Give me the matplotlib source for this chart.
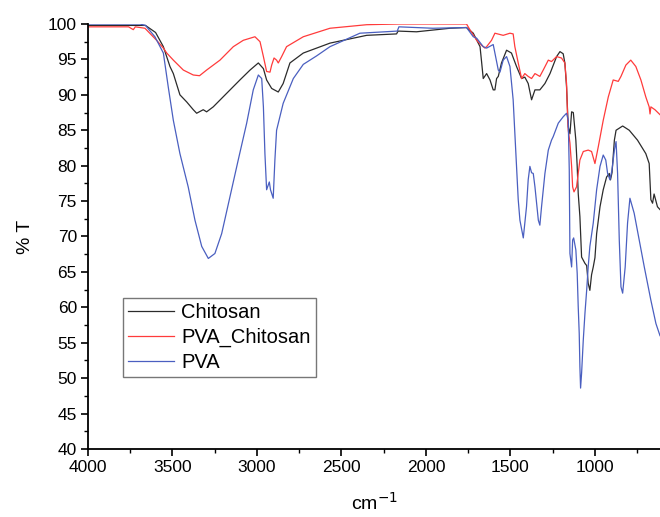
import matplotlib
matplotlib.use("Agg")
import matplotlib.pyplot as plt
from matplotlib.ticker import MultipleLocator

plt.rcParams['font.family'] = ['Liberation Sans', 'DejaVu Sans']

# Chitosan
wn_chit = [4000, 3700, 3660, 3600, 3554, 3515, 3495, 3456, 3416, 3377, 3357, 3318, 3298, 3259, 3180, 3101,
           3041, 2992, 2962, 2943, 2913, 2874, 2845, 2805, 2726, 2568, 2351, 2174, 2165, 2056, 1858, 1760,
           1720, 1680, 1671, 1661, 1641, 1621, 1602, 1592, 1582, 1572, 1553, 1523, 1494, 1464, 1434, 1415,
           1395, 1375, 1355, 1326, 1296, 1266, 1227, 1207, 1188, 1178, 1168, 1158, 1148, 1138, 1128, 1113,
           1105, 1099, 1089, 1079, 1059, 1049, 1040, 1030, 1020, 1010, 1000, 990, 970, 951, 931, 915, 908,
           899, 885, 875, 836, 797, 748, 699, 679, 669, 659, 650, 630, 615]
t_chit = [99.8, 99.8, 99.8, 98.8, 96.8, 94.0, 93.0, 90.0, 89.0, 87.9, 87.4, 87.9, 87.6, 88.3, 90.2, 92.1,
          93.5, 94.5, 93.7, 92.1, 90.9, 90.4, 91.6, 94.5, 95.9, 97.3, 98.4, 98.6, 99.0, 98.9, 99.4, 99.5,
          98.7, 96.8, 94.7, 92.3, 93.0, 92.1, 90.7, 90.7, 92.3, 92.6, 94.5, 96.3, 95.9, 94.0, 92.3, 92.5,
          91.6, 89.3, 90.7, 90.7, 91.6, 93.0, 95.4, 96.1, 95.8, 94.5, 91.1, 85.5, 84.5, 87.6, 87.5, 83.6,
          79.9, 76.1, 72.8, 67.1, 66.2, 65.9, 63.4, 62.4, 64.6, 65.7, 67.0, 70.4, 74.2, 76.6, 78.4, 78.9, 78.0,
          79.0, 83.6, 85.0, 85.6, 85.0, 83.6, 81.7, 80.3, 75.2, 74.7, 76.0, 74.2, 73.8]

# PVA_Chitosan
wn_blend = [4000, 3760, 3732, 3720, 3663, 3594, 3554, 3534, 3495, 3436, 3377, 3340, 3298, 3219, 3140, 3081,
            3012, 2982, 2962, 2943, 2923, 2913, 2899, 2884, 2874, 2854, 2825, 2726, 2568, 2351, 2160, 1760,
            1740, 1700, 1671, 1651, 1641, 1612, 1592, 1543, 1503, 1484, 1474, 1454, 1434, 1415, 1395, 1375,
            1355, 1326, 1306, 1276, 1257, 1227, 1198, 1178, 1168, 1162, 1158, 1148, 1138, 1132, 1124, 1109,
            1089, 1069, 1040, 1020, 1000, 980, 951, 921, 892, 862, 846, 817, 788, 758, 728, 699, 679, 674,
            669, 645, 615]
t_blend = [99.6, 99.6, 99.2, 99.6, 99.4, 97.7, 96.6, 95.9, 94.9, 93.5, 92.8, 92.7, 93.5, 94.9, 96.8, 97.7,
           98.2, 97.5, 95.4, 93.3, 93.2, 94.2, 95.2, 94.9, 94.5, 95.4, 96.8, 98.2, 99.4, 99.9, 100.0, 100.0,
           99.2, 97.7, 97.0, 96.6, 96.8, 97.7, 98.7, 98.4, 98.7, 98.6, 96.8, 94.5, 92.3, 93.0, 92.6, 92.3,
           93.0, 92.6, 93.5, 94.9, 94.7, 95.4, 95.2, 94.5, 91.6, 86.9, 85.0, 83.2, 79.9, 77.0, 76.3, 77.0,
           80.8, 82.0, 82.2, 82.0, 80.3, 82.7, 86.4, 89.7, 92.1, 91.9, 92.6, 94.2, 94.9, 94.0, 92.1, 89.7, 88.3, 87.3,
           88.3, 87.9, 87.2]

# PVA
wn_pva = [4000, 3692, 3660, 3604, 3554, 3525, 3495, 3456, 3407, 3367, 3327, 3288, 3249, 3209, 3160, 3111,
          3061, 3022, 2992, 2972, 2962, 2953, 2943, 2927, 2920, 2904, 2894, 2884, 2845, 2785, 2726, 2647,
          2568, 2391, 2170, 2160, 1959, 1760, 1720, 1700, 1661, 1641, 1602, 1572, 1562, 1543, 1523, 1503,
          1484, 1464, 1454, 1444, 1424, 1405, 1395, 1385, 1375, 1365, 1355, 1335, 1326, 1316, 1296, 1276,
          1257, 1247, 1217, 1188, 1168, 1158, 1152, 1148, 1138, 1132, 1126, 1113, 1105, 1099, 1093, 1089,
          1085, 1079, 1069, 1059, 1049, 1040, 1030, 1010, 990, 970, 951, 936, 925, 911, 899, 885, 875, 866,
          856, 846, 836, 821, 807, 793, 768, 738, 708, 669, 639, 615]
t_pva = [100.0, 100.0, 99.8, 98.2, 95.9, 91.1, 86.4, 81.7, 77.0, 72.3, 68.6, 66.9, 67.6, 70.4, 75.6, 80.8,
         86.0, 90.7, 92.8, 92.3, 88.3, 81.7, 76.6, 77.7, 76.6, 75.4, 80.8, 85.0, 88.8, 92.3, 94.3, 95.5,
         96.8, 98.7, 99.0, 99.6, 99.4, 99.5, 98.2, 98.0, 96.8, 96.6, 97.1, 93.5, 93.2, 94.9, 95.4, 94.0,
         89.3, 79.9, 75.2, 72.3, 69.8, 74.2, 78.0, 79.9, 79.0, 78.9, 77.0, 72.3, 71.6, 74.2, 78.9, 82.2,
         83.6, 84.1, 86.0, 86.9, 87.4, 86.4, 79.4, 67.6, 65.7, 69.5, 69.8, 68.1, 64.8, 60.1, 56.3, 51.6,
         48.6, 50.7, 55.4, 59.2, 62.4, 65.7, 68.6, 71.9, 76.6, 79.9, 81.5, 80.8, 78.9, 78.0, 79.4, 82.2, 83.4, 78.9,
         69.5, 62.9, 62.0, 65.7, 71.9, 75.4, 73.3, 69.5, 65.7, 61.0, 57.7, 56.0]

series_names = ["Chitosan", "PVA_Chitosan", "PVA"]
x_ticks = [4000, 3500, 3000, 2500, 2000, 1500, 1000]
y_ticks = [40, 45, 50, 55, 60, 65, 70, 75, 80, 85, 90, 95, 100]

fig = plt.figure(figsize=(6.6, 5.17), dpi=100)
ax = fig.add_axes([88/660, 1 - 449/517, 1 - 88/660, (449 - 24)/517])

ax.plot(wn_chit, t_chit, color='#2b2b2b', lw=0.9, label=series_names[0])
ax.plot(wn_blend, t_blend, color='#ff3b3b', lw=0.9, label=series_names[1])
ax.plot(wn_pva, t_pva, color='#4a5fc0', lw=0.9, label=series_names[2])

ax.set_xlim(4000, 615)
ax.set_ylim(40, 100)
ax.set_xticks(x_ticks)
ax.set_yticks(y_ticks)
ax.xaxis.set_minor_locator(MultipleLocator(250))
ax.yaxis.set_minor_locator(MultipleLocator(2.5))
ax.tick_params(which='major', direction='out', length=5, width=1.2, labelsize=12.5, pad=3)
ax.tick_params(which='minor', direction='out', length=3, width=1.0)
for s in ['top', 'right']:
    ax.spines[s].set_visible(False)
for s in ['left', 'bottom']:
    ax.spines[s].set_linewidth(1.3)

ax.set_xlabel('cm$^{-1}$', fontsize=14, labelpad=12)
ax.set_ylabel('% T', fontsize=14, labelpad=10)

leg = ax.legend(loc='upper left', bbox_to_anchor=((123 - 88) / 572, (449 - 298) / 425),
                fontsize=14.5, frameon=True, fancybox=False, handlelength=2.3,
                borderpad=0.25, labelspacing=0.28, handletextpad=0.35, borderaxespad=0)
leg.get_frame().set_edgecolor('#555555')
leg.get_frame().set_linewidth(1.0)

fig.savefig('out.png', dpi=100)
